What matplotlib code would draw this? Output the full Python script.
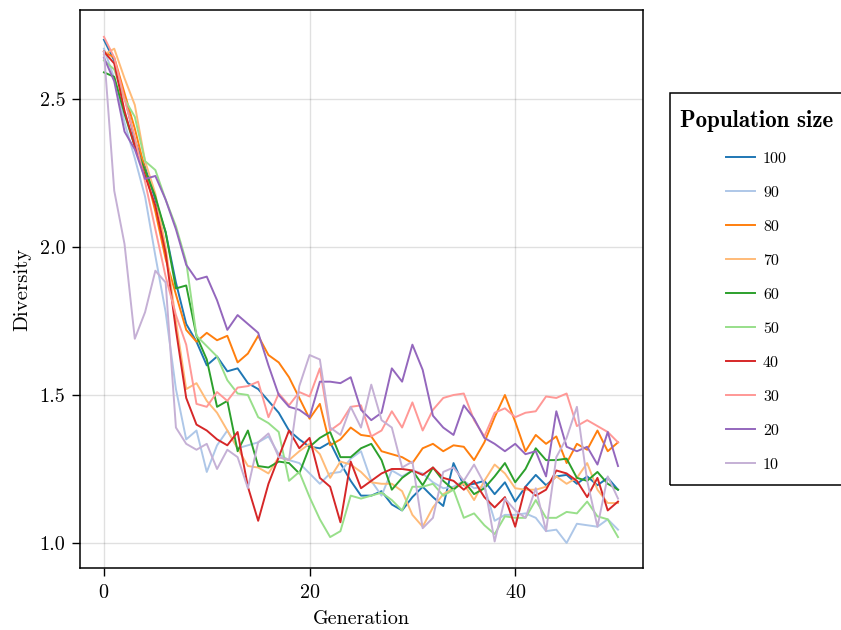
import matplotlib
matplotlib.use("Agg")
import matplotlib.pyplot as plt
from matplotlib.patches import Rectangle

# Computer Modern fonts (ship with matplotlib)
plt.rcParams['font.family'] = ['cmr10', 'DejaVu Serif']
plt.rcParams['axes.formatter.use_mathtext'] = True
plt.rcParams['mathtext.fontset'] = 'cm'

generations = list(range(51))
pop_sizes = ["100", "90", "80", "70", "60", "50", "40", "30", "20", "10"]
colors = ["#1f77b4", "#aec7e8", "#ff7f0e", "#ffbb78", "#2ca02c",
          "#98df8a", "#d62728", "#ff9896", "#9467bd", "#c5b0d5"]

div_100 = [2.70, 2.63, 2.51, 2.36, 2.27, 2.16, 2.05, 1.88, 1.74, 1.68, 1.60, 1.63, 1.58, 1.59,
           1.54, 1.52, 1.48, 1.44, 1.38, 1.35, 1.325, 1.32, 1.34, 1.27, 1.21, 1.16, 1.16, 1.175,
           1.13, 1.11, 1.155, 1.19, 1.155, 1.125, 1.27, 1.195, 1.20, 1.21, 1.165, 1.205, 1.14,
           1.19, 1.23, 1.195, 1.225, 1.23, 1.20, 1.225, 1.195, 1.22, 1.18]
div_90 = [2.67, 2.57, 2.42, 2.30, 2.17, 1.97, 1.78, 1.52, 1.35, 1.38, 1.24, 1.33, 1.38, 1.32,
          1.33, 1.34, 1.36, 1.30, 1.28, 1.27, 1.235, 1.20, 1.235, 1.24, 1.285, 1.31, 1.21, 1.16,
          1.245, 1.225, 1.245, 1.235, 1.205, 1.185, 1.19, 1.21, 1.185, 1.19, 1.075, 1.095, 1.095,
          1.10, 1.085, 1.04, 1.045, 1.00, 1.065, 1.06, 1.055, 1.08, 1.045]
div_80 = [2.66, 2.64, 2.52, 2.40, 2.26, 2.12, 1.96, 1.84, 1.72, 1.68, 1.71, 1.685, 1.70, 1.61,
          1.64, 1.70, 1.635, 1.61, 1.56, 1.49, 1.42, 1.47, 1.33, 1.35, 1.39, 1.365, 1.36, 1.31,
          1.30, 1.29, 1.27, 1.32, 1.335, 1.31, 1.33, 1.325, 1.28, 1.34, 1.425, 1.50, 1.41,
          1.31, 1.365, 1.335, 1.36, 1.27, 1.335, 1.315, 1.38, 1.31, 1.34]
div_70 = [2.65, 2.67, 2.57, 2.48, 2.29, 2.18, 2.00, 1.75, 1.52, 1.54, 1.48, 1.44, 1.38, 1.32,
          1.26, 1.255, 1.235, 1.29, 1.28, 1.31, 1.335, 1.30, 1.22, 1.275, 1.265, 1.24, 1.205, 1.20,
          1.20, 1.175, 1.095, 1.055, 1.12, 1.165, 1.185, 1.20, 1.145, 1.21, 1.265, 1.235, 1.185,
          1.18, 1.18, 1.19, 1.225, 1.20, 1.22, 1.27, 1.18, 1.135, 1.135]
div_60 = [2.59, 2.575, 2.45, 2.34, 2.26, 2.17, 2.05, 1.86, 1.87, 1.70, 1.62, 1.46, 1.48, 1.31,
          1.38, 1.26, 1.255, 1.275, 1.27, 1.235, 1.325, 1.355, 1.375, 1.29, 1.29, 1.32, 1.335, 1.28,
          1.18, 1.22, 1.245, 1.195, 1.255, 1.21, 1.18, 1.21, 1.165, 1.185, 1.225, 1.27, 1.205,
          1.25, 1.32, 1.28, 1.28, 1.285, 1.22, 1.21, 1.24, 1.20, 1.18]
div_50 = [2.63, 2.60, 2.50, 2.44, 2.29, 2.26, 2.16, 2.07, 1.95, 1.70, 1.665, 1.63, 1.55, 1.505,
          1.50, 1.425, 1.405, 1.375, 1.21, 1.24, 1.155, 1.08, 1.02, 1.04, 1.16, 1.15, 1.16, 1.17,
          1.145, 1.11, 1.19, 1.19, 1.20, 1.16, 1.18, 1.085, 1.10, 1.06, 1.03, 1.09, 1.085,
          1.085, 1.145, 1.085, 1.085, 1.105, 1.10, 1.14, 1.09, 1.08, 1.02]
div_40 = [2.66, 2.62, 2.46, 2.34, 2.24, 2.14, 1.98, 1.72, 1.49, 1.40, 1.38, 1.35, 1.33, 1.375,
          1.19, 1.075, 1.20, 1.29, 1.38, 1.32, 1.355, 1.22, 1.19, 1.07, 1.275, 1.185, 1.21, 1.235,
          1.25, 1.25, 1.245, 1.23, 1.255, 1.22, 1.21, 1.18, 1.21, 1.155, 1.12, 1.155, 1.055,
          1.19, 1.16, 1.18, 1.245, 1.235, 1.21, 1.155, 1.22, 1.11, 1.14]
div_30 = [2.71, 2.64, 2.50, 2.37, 2.22, 2.06, 1.90, 1.77, 1.67, 1.47, 1.46, 1.51, 1.48, 1.525,
          1.53, 1.545, 1.425, 1.505, 1.465, 1.51, 1.495, 1.59, 1.38, 1.405, 1.46, 1.465, 1.36, 1.38,
          1.445, 1.39, 1.475, 1.38, 1.45, 1.49, 1.50, 1.505, 1.415, 1.36, 1.44, 1.455, 1.425,
          1.44, 1.445, 1.495, 1.49, 1.505, 1.395, 1.415, 1.395, 1.375, 1.34]
div_20 = [2.64, 2.56, 2.39, 2.33, 2.23, 2.24, 2.16, 2.06, 1.94, 1.89, 1.90, 1.82, 1.72, 1.77,
          1.74, 1.71, 1.60, 1.50, 1.46, 1.45, 1.425, 1.545, 1.545, 1.54, 1.56, 1.45, 1.415, 1.44,
          1.59, 1.545, 1.67, 1.585, 1.43, 1.39, 1.365, 1.465, 1.42, 1.355, 1.335, 1.31, 1.335,
          1.30, 1.31, 1.225, 1.445, 1.325, 1.31, 1.325, 1.265, 1.375, 1.26]
div_10 = [2.66, 2.19, 2.01, 1.69, 1.78, 1.92, 1.88, 1.39, 1.335, 1.315, 1.335, 1.25, 1.315, 1.29,
          1.185, 1.34, 1.37, 1.29, 1.28, 1.53, 1.635, 1.62, 1.39, 1.365, 1.46, 1.39, 1.535, 1.415,
          1.39, 1.255, 1.275, 1.05, 1.085, 1.24, 1.255, 1.21, 1.265, 1.20, 1.005, 1.15, 1.11,
          1.085, 1.185, 1.04, 1.29, 1.355, 1.46, 1.21, 1.055, 1.225, 1.15]

series = [div_100, div_90, div_80, div_70, div_60, div_50, div_40, div_30, div_20, div_10]

fig = plt.figure(figsize=(8.41, 6.30), dpi=100)
ax = fig.add_axes([80 / 841, 1 - 568 / 630, 563 / 841, 558 / 630])

lines = []
for vals, lab, c in zip(series, pop_sizes, colors):
    ln, = ax.plot(generations, vals, color=c, lw=1.4, label=lab)
    lines.append(ln)

ax.set_xlim(-2.33, 52.43)
ax.set_ylim(0.9155, 2.8007)
ax.set_xticks([0, 20, 40])
ax.set_yticks([1.0, 1.5, 2.0, 2.5])
ax.set_yticklabels(["1.0", "1.5", "2.0", "2.5"])
ax.grid(True, color="black", alpha=0.12, lw=1)
ax.tick_params(direction="out", length=5.5, width=1, labelsize=14.5)
ax.tick_params(axis="x", pad=6)
ax.tick_params(axis="y", pad=5)
for s in ax.spines.values():
    s.set_linewidth(1.1)

ax.set_xlabel("Generation", fontsize=14.5, labelpad=6)
ax.set_ylabel("Diversity", fontsize=15, labelpad=6)

# legend box runs past the right edge, so draw the frame separately
frame = Rectangle((670 / 841, 1 - 485 / 630), 200 / 841, 392 / 630,
                  transform=fig.transFigure, fill=False, edgecolor="black",
                  lw=1.1, clip_on=False)
fig.add_artist(frame)

leg = fig.legend(handles=lines, title="Population size",
                 loc="upper left", bbox_to_anchor=(680 / 841, 1 - 110 / 630),
                 fontsize=11.5, frameon=False,
                 handlelength=1.8, handletextpad=0.5, labelspacing=1.24,
                 borderpad=0, borderaxespad=0)
leg.get_title().set_fontfamily("cmb10")
leg.get_title().set_fontsize(16.5)

fig.savefig("out.png", dpi=100)
